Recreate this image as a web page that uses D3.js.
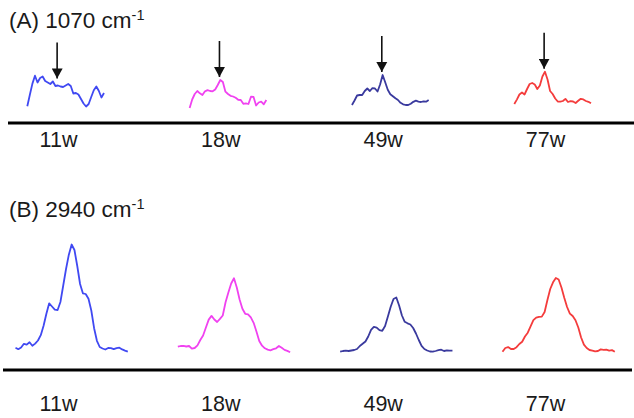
<!DOCTYPE html>
<html lang="en">
<head>
<meta charset="UTF-8">
<title>Raman bands</title>
<style>
  body { margin: 0; background: #fff; }
  svg { display: block; }
  .title { font-family: "Liberation Sans", Arial, sans-serif; font-size: 22.5px; fill: #1a1a1a; }
  .axis text { font-family: "Liberation Sans", Arial, sans-serif; font-size: 21.5px; fill: #1a1a1a; }
  .spec { fill: none; stroke-width: 1.8; stroke-linejoin: round; }
</style>
</head>
<body>
<script src="https://cdn.jsdelivr.net/npm/d3@7"></script>
<script>
// sample groups
var weeks = ["11w", "18w", "49w", "77w"];
var colors = ["#4049f2", "#f042f0", "#3a3a9e", "#f43c3c"];

// (A) 1070 cm-1 region, 31 points 1000..1180 cm-1
var wnA = d3.range(1000, 1181, 6);
var a11w = [1.7, 13.2, 24.4, 32.3, 25.5, 30, 31.5, 27, 25.5, 24, 26.5, 22, 22.5, 21.5, 21, 22.5, 24, 22, 14.5, 15, 13.5, 9, 4.5, 1.5, 4, 11, 17.7, 21.5, 17, 10.5, 15];
var a18w = [0, 8.5, 14, 17, 14.7, 13, 16.7, 17.8, 17, 16.7, 18.5, 23, 28, 26, 16.3, 14, 12.2, 11.5, 10.2, 8.2, 8, 4.2, 4.7, 4, 11.3, 11, 2.5, 5.5, 6.3, 3.7, 8];
var a49w = [3, 7.5, 12.5, 13, 13, 17, 19.5, 17, 19.8, 19.5, 16.5, 23.5, 33, 25.7, 18.2, 13.8, 11.8, 9.7, 8, 5.2, 3.7, 3, 3, 4.2, 6.2, 7.3, 6.4, 6, 6.7, 6.3, 8];
var a77w = [4, 8.4, 13.5, 15.5, 13.5, 19, 24, 25, 23.5, 19, 22.5, 31.5, 36.3, 28.5, 17, 14, 9.5, 6.5, 6.3, 7, 9.1, 6, 6.8, 6.5, 5, 7.2, 9.2, 8.6, 7, 6.2, 4.7];

// (B) 2940 cm-1 region, 41 points 2850..3030 cm-1
var wnB = d3.range(2850, 3032, 4.5);
var b11w = [6.3, 4.8, 6.5, 10.2, 9.4, 11.7, 8.3, 10.4, 13.5, 18.8, 28.2, 40.2, 50.7, 47.5, 44.3, 44, 52, 68.5, 85, 99.3, 109.5, 104, 88, 70, 60.7, 60, 55.2, 43.5, 25.8, 13.2, 7, 5.5, 4.5, 6, 5.8, 4.8, 5.9, 6.3, 4.6, 3.4, 2.3];
var b18w = [7.3, 8, 8.1, 7.5, 8, 5.4, 6, 8.7, 14, 18.5, 26.5, 34.4, 38.1, 34.5, 32, 35.1, 38.5, 51.7, 61.5, 70.5, 75.7, 66.5, 54.5, 45.2, 40.2, 39.7, 36.6, 31.2, 22.4, 13, 8.3, 5.7, 4.4, 3.7, 4.8, 5.7, 8, 6.2, 4.1, 3.1, 1.7];
var b49w = [2.3, 3, 3.3, 3, 3.5, 4, 5, 8, 10.2, 12.5, 17.5, 24.2, 27.1, 26.4, 23.9, 23.2, 28, 37.5, 47.2, 55, 56.5, 48.5, 38.5, 32.2, 30.7, 29.5, 26, 20.5, 14, 8.2, 5, 3.5, 2.5, 2.3, 3, 3.8, 4.3, 3, 3.6, 3.3, 3.3];
var b77w = [2.3, 6, 6.9, 5, 5, 6.8, 10, 12.3, 17.5, 21.3, 27.7, 33.8, 36.4, 37.1, 37.4, 42, 54, 65, 71.7, 76, 74.5, 66.5, 56.2, 47, 40.4, 38, 33.8, 26.5, 16.5, 9.4, 6, 4, 3.4, 2.6, 3, 4.6, 4.2, 4.4, 3.4, 3.9, 2.3];

var bandA = 1070, bandB = 2940;
var seriesA = [a11w, a18w, a49w, a77w];
var seriesB = [b11w, b18w, b49w, b77w];

var width = 634, height = 418;
var svg = d3.select("body").append("svg").attr("width", width).attr("height", height);

svg.append("defs").append("marker")
  .attr("id", "head")
  .attr("viewBox", "0 0 12 11")
  .attr("refX", 11).attr("refY", 6)
  .attr("markerWidth", 11).attr("markerHeight", 12)
  .attr("markerUnits", "userSpaceOnUse")
  .attr("orient", "auto")
  .append("path").attr("d", "M0,0L11,6L0,12Z").attr("fill", "#111");

var x = d3.scalePoint().domain(weeks).range([58, 545]);
var yA = d3.scaleLinear().domain([0, 40]).range([108, 68]);
var yB = d3.scaleLinear().domain([0, 110]).range([354, 244]);

function title(label, wn, yPos) {
  var t = svg.append("text").attr("class", "title").attr("x", 9).attr("y", yPos);
  t.append("tspan").text(label + " " + wn + " cm");
  t.append("tspan").attr("dy", -8).attr("font-size", 14.5).text("-1");
}
title("(A)", bandA, 28);
title("(B)", bandB, 217);

// panel A
weeks.forEach(function(w, i) {
  var c = x(w);
  var xs = d3.scaleLinear().domain([wnA[0], wnA[wnA.length - 1]]).range([c - 30.7, c + 46]);
  var line = d3.line().x(function(d, j) { return xs(wnA[j]); }).y(function(d) { return yA(d); });
  svg.append("path").datum(seriesA[i]).attr("class", "spec").attr("stroke", colors[i]).attr("d", line);

  // arrow pointing at the 1070 band
  var near = seriesA[i].filter(function(d, j) { return wnA[j] >= 1058 && wnA[j] <= 1076; });
  var tip = yA(d3.max(near)) - 3;
  svg.append("line")
    .attr("x1", xs(bandA)).attr("x2", xs(bandA))
    .attr("y1", tip - 36).attr("y2", tip)
    .attr("stroke", "#111").attr("stroke-width", 1.6)
    .attr("marker-end", "url(#head)");
});

// panel B
weeks.forEach(function(w, i) {
  var c = x(w);
  var xs = d3.scaleLinear().domain([wnB[0], wnB[wnB.length - 1]]).range([c - 42.5, c + 69.8]);
  var line = d3.line().x(function(d, j) { return xs(wnB[j]); }).y(function(d) { return yB(d); });
  svg.append("path").datum(seriesB[i]).attr("class", "spec").attr("stroke", colors[i]).attr("d", line);
});

// baselines + week labels
svg.append("line").attr("x1", 8).attr("x2", 634).attr("y1", 123).attr("y2", 123)
  .attr("stroke", "#000").attr("stroke-width", 3);
svg.append("line").attr("x1", 3).attr("x2", 632).attr("y1", 370).attr("y2", 370)
  .attr("stroke", "#000").attr("stroke-width", 3);

var axis = d3.axisBottom(x).tickSize(0);
svg.append("g").attr("class", "axis").attr("transform", "translate(0,123)")
  .call(axis.tickPadding(9))
  .call(function(g) { g.select(".domain").remove(); g.selectAll("text").attr("font-size", null).attr("font-family", null); });
svg.append("g").attr("class", "axis").attr("transform", "translate(0,370)")
  .call(axis.tickPadding(26))
  .call(function(g) { g.select(".domain").remove(); g.selectAll("text").attr("font-size", null).attr("font-family", null); });
</script>
</body>
</html>
